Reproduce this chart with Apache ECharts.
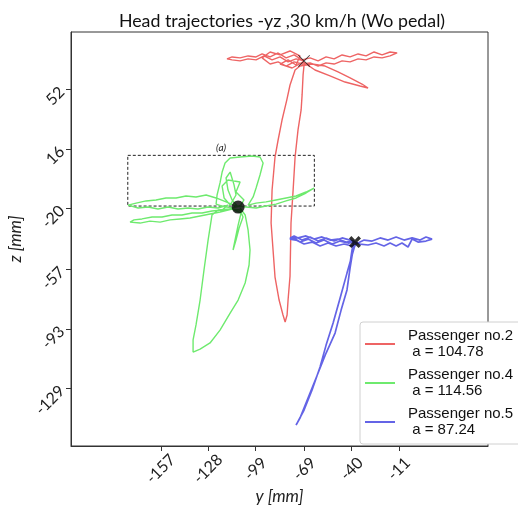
<!DOCTYPE html>
<html><head><meta charset="utf-8">
<script src="https://cdn.jsdelivr.net/npm/echarts@6/dist/echarts.min.js"></script>
<style>html,body{margin:0;padding:0;background:#fff}#c{width:518px;height:508px}</style>
</head><body><div id="c"></div>
<script>
const titleText = 'Head trajectories -yz ,30 km/h (Wo pedal)';
const xTicks = [-157, -128, -99, -69, -40, -11];
const yTicks = [52, 16, -20, -57, -93, -129];
const seriesNames = ['Passenger no.2', 'Passenger no.4', 'Passenger no.5'];
const aValues = ['104.78', '114.56', '87.24'];
const colors = ['#ee6464', '#6eea6e', '#6464e6'];

const red2 = [[-69.2,69.3],[-74.1,70.5],[-79.0,68.7],[-83.9,71.7],[-88.8,69.9],[-93.7,72.3],[-98.6,69.9],[-103.5,70.5],[-108.4,69.3],[-113.3,69.9],[-116.4,70.5],[-113.3,71.7],[-108.4,71.1],[-103.5,72.3],[-98.6,71.7],[-94.9,73.5],[-90.0,71.7],[-85.1,74.1],[-80.2,71.1],[-75.3,72.9],[-70.4,69.9],[-65.5,71.1],[-60.6,69.3],[-55.7,71.7],[-50.8,70.5],[-45.9,72.9],[-41.0,71.7],[-36.1,73.5],[-31.2,72.3],[-26.3,74.7],[-21.4,72.9],[-16.5,74.7],[-12.2,74.1],[-16.5,72.3],[-21.4,71.1],[-26.3,71.7],[-31.2,69.9],[-36.1,70.5],[-41.0,68.7],[-45.9,69.3],[-50.8,67.4],[-55.7,68.1],[-60.6,66.2],[-65.5,68.1],[-70.4,67.4],[-75.3,68.7],[-80.2,66.2],[-85.1,68.7],[-90.0,67.4],[-94.9,71.1],[-90.0,74.7],[-83.9,72.9],[-77.8,75.3],[-71.7,72.3],[-74.1,66.8],[-79.0,69.9],[-83.9,67.4],[-76.5,65.0],[-69.8,68.7],[-62.5,63.8],[-53.3,60.2],[-44.1,56.5],[-34.9,54.1],[-30.0,52.9],[-33.7,55.3],[-41.0,59.0],[-48.4,62.6],[-56.3,66.2],[-64.3,67.4],[-71.7,66.2],[-74.7,63.8],[-77.8,54.7],[-79.8,45.6],[-82.7,33.5],[-85.1,21.4],[-87.0,11.1],[-88.8,-8.9],[-89.4,-28.9],[-88.2,-45.2],[-87.0,-61.6],[-84.5,-75.5],[-82.1,-84.6],[-80.8,-88.8],[-79.6,-84.6],[-79.0,-75.5],[-77.8,-61.0],[-77.2,-28.9],[-75.9,-8.9],[-74.7,11.1],[-72.9,27.5],[-71.0,39.6],[-70.4,48.7],[-69.8,60.8],[-69.2,66.8]];

const green4 = [[-109.6,-19.2],[-113.3,-14.9],[-115.8,-8.9],[-117.0,-1.6],[-114.5,2.0],[-112.1,-5.8],[-110.9,-11.9],[-114.5,-18.0],[-118.2,-13.7],[-119.4,-6.5],[-115.8,-2.8],[-108.4,-4.0],[-110.9,-10.1],[-106.0,-14.9],[-108.4,-18.6],[-113.3,-19.8],[-119.4,-18.6],[-123.1,-17.4],[-122.5,-11.9],[-120.7,-4.6],[-119.4,2.0],[-117.6,7.5],[-114.5,10.5],[-108.4,11.1],[-101.1,11.7],[-96.2,11.1],[-94.3,7.5],[-96.2,0.2],[-98.6,-7.7],[-100.4,-13.1],[-103.5,-18.0],[-98.6,-16.8],[-92.5,-16.1],[-86.4,-14.9],[-80.2,-13.7],[-74.1,-12.5],[-68.0,-10.1],[-63.1,-7.7],[-68.0,-10.7],[-74.1,-13.7],[-80.2,-15.5],[-86.4,-17.4],[-92.5,-18.6],[-98.6,-19.8],[-104.7,-19.2],[-110.9,-18.6],[-117.0,-16.1],[-123.1,-13.7],[-129.2,-11.9],[-135.4,-13.1],[-141.5,-12.5],[-147.6,-13.7],[-153.8,-13.7],[-159.9,-14.9],[-166.0,-15.5],[-172.1,-16.8],[-177.0,-18.0],[-170.9,-19.8],[-164.8,-19.2],[-158.7,-20.4],[-152.5,-19.2],[-146.4,-20.4],[-140.3,-19.8],[-134.2,-20.4],[-128.0,-19.2],[-121.9,-19.8],[-115.8,-18.0],[-119.4,-21.0],[-125.6,-21.6],[-131.7,-22.8],[-137.8,-22.8],[-144.0,-24.0],[-150.1,-24.0],[-156.2,-25.2],[-162.3,-25.2],[-168.5,-26.4],[-173.4,-27.0],[-175.8,-28.3],[-169.7,-28.9],[-163.6,-27.7],[-157.4,-28.3],[-151.3,-27.0],[-145.2,-26.4],[-139.1,-25.8],[-132.9,-24.6],[-126.8,-23.4],[-120.7,-22.2],[-113.3,-20.4],[-107.8,-22.8],[-109.6,-30.1],[-111.5,-39.2],[-112.7,-45.2],[-110.9,-39.2],[-109.0,-31.9],[-106.6,-25.2],[-108.4,-21.0],[-114.5,-20.4],[-121.9,-21.0],[-125.6,-24.0],[-128.0,-39.2],[-130.5,-57.3],[-132.9,-75.5],[-135.4,-90.6],[-137.2,-99.7],[-137.2,-107.0],[-132.9,-105.2],[-126.8,-101.5],[-120.7,-93.7],[-114.5,-83.4],[-109.6,-75.5],[-105.3,-65.2],[-102.9,-54.3],[-102.3,-45.2],[-103.5,-33.1],[-105.3,-24.0],[-108.4,-19.8]];

const blue5 = [[-38.0,-40.4],[-42.2,-41.0],[-47.1,-39.8],[-52.0,-41.6],[-57.0,-39.2],[-61.8,-41.0],[-66.7,-38.6],[-71.7,-40.4],[-76.5,-37.3],[-77.8,-38.6],[-74.1,-39.2],[-69.2,-41.6],[-64.3,-40.4],[-59.4,-42.8],[-54.5,-41.0],[-49.6,-42.8],[-44.7,-41.6],[-39.8,-42.8],[-36.1,-41.0],[-32.4,-39.2],[-27.5,-39.8],[-22.6,-37.9],[-17.7,-39.2],[-12.8,-37.3],[-7.9,-39.2],[-3.0,-37.9],[1.9,-39.2],[5.5,-37.3],[9.2,-38.6],[5.5,-39.8],[0.6,-40.4],[-3.0,-38.6],[-5.5,-43.4],[-9.2,-41.0],[-12.8,-42.8],[-16.5,-41.0],[-20.2,-42.8],[-25.1,-41.0],[-30.0,-42.2],[-34.9,-41.6],[-41.0,-39.2],[-45.9,-37.9],[-50.8,-39.8],[-55.7,-37.9],[-60.6,-39.8],[-65.5,-37.3],[-70.4,-39.2],[-75.3,-36.7],[-77.8,-37.9],[-72.9,-37.9],[-68.0,-36.7],[-63.1,-38.6],[-58.2,-37.3],[-53.3,-39.2],[-48.4,-38.6],[-43.5,-40.4],[-38.6,-39.8],[-39.8,-45.2],[-41.0,-53.1],[-39.8,-46.4],[-38.0,-42.2],[-42.9,-59.2],[-47.1,-74.3],[-51.4,-89.4],[-55.7,-102.8],[-59.4,-116.1],[-64.3,-130.0],[-69.2,-142.1],[-74.1,-151.2],[-71.7,-147.0],[-68.0,-137.9],[-64.3,-128.8],[-60.6,-119.7],[-55.7,-107.6],[-50.2,-95.5],[-46.5,-81.6],[-42.9,-69.4],[-41.0,-56.1],[-39.2,-45.2],[-37.3,-41.0]];

const startRed = [[-69.2, 69.3]];
const startGreen = [[-109.6, -19.2]];
const startBlue = [[-38.0, -40.4]];
const boxA = { x: [-177.2, -62.9], y: [12.1, -18.6], label: '(a)' };

const thinX = 'path://M0,1 L1,0 L10,9 L19,0 L20,1 L11,10 L20,19 L19,20 L10,11 L1,20 L0,19 L9,10 Z';
const boldX = 'path://M0,4 L4,0 L10,6 L16,0 L20,4 L14,10 L20,16 L16,20 L10,14 L4,20 L0,16 L6,10 Z';

const chart = echarts.init(document.getElementById('c'), null, { renderer: 'canvas' });
const widths = [1.4, 1.4, 1.7];
const lineSeries = [red2, green4, blue5].map((d, i) => ({
  name: seriesNames[i], type: 'line', data: d, symbol: 'none', smooth: false,
  lineStyle: { color: colors[i], width: widths[i] }, itemStyle: { color: colors[i] }, z: 2 + i
}));
lineSeries[0].markArea = {
  silent: true,
  itemStyle: { color: 'rgba(0,0,0,0)', borderColor: '#222', borderWidth: 1, borderType: [3, 2] },
  label: { show: true, position: 'top', formatter: boxA.label, fontFamily: 'Lato', fontStyle: 'italic', fontSize: 10, color: '#222', distance: 2 },
  data: [[{ coord: [boxA.x[0], boxA.y[0]] }, { coord: [boxA.x[1], boxA.y[1]] }]]
};
const markerSeries = [
  { type: 'scatter', data: startRed, symbol: thinX, symbolSize: 12, itemStyle: { color: '#111' }, z: 10 },
  { type: 'scatter', data: startGreen, symbol: 'circle', symbolSize: 13, itemStyle: { color: '#000' }, z: 10 },
  { type: 'scatter', data: startBlue, symbol: boldX, symbolSize: 12, itemStyle: { color: '#000' }, z: 10 }
];
chart.setOption({
  animation: false,
  backgroundColor: '#fff',
  title: { text: titleText, left: 277, textAlign: 'center', top: 7,
    textStyle: { fontFamily: 'Lato', fontWeight: 'normal', fontSize: 17.8, color: '#111' } },
  grid: { left: 71, right: 30, top: 32, bottom: 62, show: true, borderColor: '#333', borderWidth: 1,
    containLabel: false, outerBoundsMode: 'none' },
  xAxis: {
    type: 'value', min: -212, max: 43.5, name: 'y [mm]', nameLocation: 'middle', nameGap: 42, nameMoveOverlap: false,
    nameTextStyle: { fontFamily: 'Lato', fontStyle: 'italic', fontSize: 17, color: '#222' },
    axisLine: { onZero: false, lineStyle: { color: '#333' } },
    axisTick: { show: true, length: 5, lineStyle: { color: '#333' }, customValues: xTicks },
    axisLabel: { customValues: xTicks, margin: 23, rotate: 45, align: 'center', verticalAlign: 'middle',
      color: '#222', fontFamily: 'Lato', fontSize: 16 },
    splitLine: { show: false }
  },
  yAxis: {
    type: 'value', min: -163.9, max: 86.8, name: 'z [mm]', nameLocation: 'middle', nameGap: 47, nameMoveOverlap: false,
    nameTextStyle: { fontFamily: 'Lato', fontStyle: 'italic', fontSize: 17, color: '#222' },
    axisLine: { show: true, onZero: false, lineStyle: { color: '#333' } },
    axisTick: { show: true, length: 5, lineStyle: { color: '#333' }, customValues: yTicks },
    axisLabel: { customValues: yTicks, margin: 9, rotate: 45, color: '#222', fontFamily: 'Lato', fontSize: 16 },
    splitLine: { show: false }
  },
  legend: {
    left: 360, top: 322, orient: 'vertical', icon: 'rect', itemWidth: 30, itemHeight: 2, itemGap: 7,
    padding: [6, 10, 6, 5], backgroundColor: '#fff', borderColor: '#d0d0d0', borderWidth: 1, borderRadius: 3,
    data: seriesNames,
    formatter: n => n + '\n a = ' + aValues[seriesNames.indexOf(n)],
    textStyle: { fontFamily: 'Liberation Sans', fontSize: 15, color: '#111', lineHeight: 16, padding: [0, 0, 0, 8] }
  },
  series: lineSeries.concat(markerSeries)
});
</script></body></html>
